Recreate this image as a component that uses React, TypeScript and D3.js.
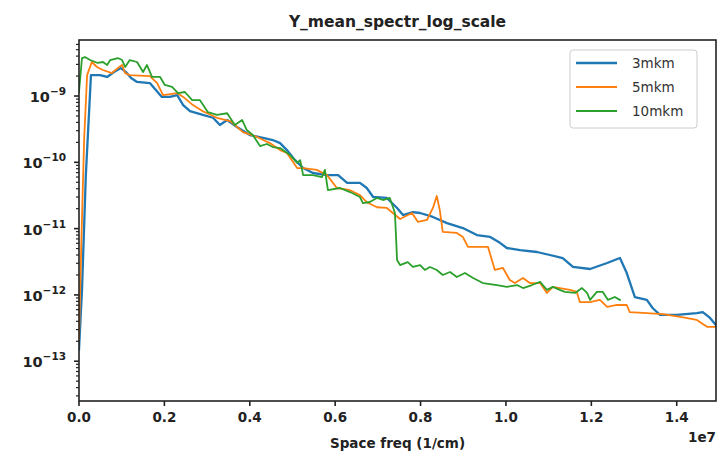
import * as d3 from 'd3';
import { useMemo } from 'react';

// frequency in units of 1e7 (1/cm)
const blueX = [0.0, 0.007, 0.016, 0.028, 0.049, 0.066, 0.082, 0.098, 0.11, 0.122, 0.136, 0.166, 0.18, 0.194, 0.213, 0.23, 0.244, 0.26, 0.29, 0.314, 0.33, 0.347, 0.37, 0.4, 0.431, 0.454, 0.471, 0.487, 0.506, 0.525, 0.548, 0.581, 0.607, 0.628, 0.658, 0.674, 0.689, 0.721, 0.745, 0.759, 0.782, 0.799, 0.829, 0.862, 0.899, 0.932, 0.963, 0.986, 1.002, 1.033, 1.073, 1.103, 1.133, 1.157, 1.197, 1.237, 1.267, 1.283, 1.302, 1.33, 1.344, 1.361, 1.4, 1.447, 1.461, 1.478, 1.492];
const blueY = [1.5e-13, 1.19e-12, 6.4e-11, 2.07e-9, 2.07e-9, 1.94e-9, 2.3e-9, 2.64e-9, 2.3e-9, 1.87e-9, 1.63e-9, 1.57e-9, 1.23e-9, 9.7e-10, 9.7e-10, 1.03e-9, 7.3e-10, 5.9e-10, 5.2e-10, 4.7e-10, 3.65e-10, 4.35e-10, 3.4e-10, 2.58e-10, 2.33e-10, 2.17e-10, 1.95e-10, 1.53e-10, 1.08e-10, 8.2e-11, 6.9e-11, 6.4e-11, 6.4e-11, 4.9e-11, 4.9e-11, 4.1e-11, 3.0e-11, 2.9e-11, 2.05e-11, 1.6e-11, 1.78e-11, 1.72e-11, 1.5e-11, 1.21e-11, 1.02e-11, 8.0e-12, 7.5e-12, 6.1e-12, 5.1e-12, 4.75e-12, 4.44e-12, 4.0e-12, 3.6e-12, 2.64e-12, 2.46e-12, 3.03e-12, 3.6e-12, 2.14e-12, 9.3e-13, 8.4e-13, 6.3e-13, 5.0e-13, 5.0e-13, 5.3e-13, 5.5e-13, 4.5e-13, 3.5e-13];

const orangeX = [0.0, 0.005, 0.012, 0.019, 0.03, 0.042, 0.056, 0.077, 0.091, 0.101, 0.108, 0.119, 0.166, 0.183, 0.197, 0.23, 0.244, 0.267, 0.29, 0.323, 0.354, 0.384, 0.417, 0.447, 0.471, 0.487, 0.511, 0.525, 0.557, 0.581, 0.604, 0.635, 0.658, 0.674, 0.698, 0.721, 0.752, 0.78, 0.794, 0.815, 0.829, 0.838, 0.845, 0.852, 0.885, 0.899, 0.911, 0.932, 0.958, 0.967, 0.974, 0.993, 1.009, 1.021, 1.04, 1.056, 1.08, 1.096, 1.11, 1.126, 1.15, 1.166, 1.173, 1.197, 1.22, 1.237, 1.26, 1.283, 1.29, 1.33, 1.368, 1.415, 1.447, 1.471, 1.492];
const orangeY = [2.1e-13, 4.75e-12, 2.17e-10, 2.07e-9, 3.26e-9, 2.74e-9, 2.47e-9, 2.22e-9, 2.64e-9, 2.94e-9, 2.22e-9, 2.07e-9, 2.0e-9, 1.57e-9, 1.03e-9, 1.11e-9, 9.7e-10, 7.3e-10, 5.9e-10, 4.7e-10, 4.2e-10, 2.86e-10, 2.41e-10, 1.95e-10, 1.53e-10, 1.38e-10, 8.2e-11, 8.2e-11, 7.7e-11, 6.4e-11, 4.1e-11, 3.8e-11, 3.2e-11, 2.5e-11, 2.1e-11, 2.05e-11, 1.4e-11, 1.72e-11, 1.26e-11, 1.35e-11, 2.05e-11, 3.1e-11, 1.91e-11, 8.9e-12, 8.6e-12, 7.5e-12, 5.3e-12, 5.3e-12, 5.3e-12, 3.36e-12, 2.38e-12, 2.55e-12, 1.68e-12, 1.51e-12, 1.8e-12, 1.51e-12, 1.51e-12, 1.07e-12, 1.32e-12, 1.27e-12, 1.19e-12, 1.11e-12, 7.8e-13, 7.8e-13, 8.4e-13, 6.6e-13, 7.05e-13, 7.05e-13, 5.5e-13, 5.3e-13, 5.15e-13, 4.6e-13, 4.2e-13, 3.3e-13, 3.3e-13];

const greenX = [0.0, 0.007, 0.014, 0.026, 0.044, 0.056, 0.066, 0.073, 0.091, 0.101, 0.108, 0.119, 0.136, 0.15, 0.159, 0.171, 0.19, 0.201, 0.218, 0.232, 0.248, 0.265, 0.283, 0.302, 0.323, 0.347, 0.365, 0.382, 0.393, 0.407, 0.424, 0.44, 0.454, 0.471, 0.494, 0.511, 0.518, 0.525, 0.548, 0.569, 0.576, 0.583, 0.611, 0.635, 0.658, 0.665, 0.681, 0.698, 0.712, 0.728, 0.74, 0.745, 0.752, 0.77, 0.782, 0.799, 0.81, 0.822, 0.838, 0.852, 0.869, 0.885, 0.904, 0.923, 0.946, 0.979, 1.002, 1.026, 1.04, 1.061, 1.08, 1.096, 1.11, 1.126, 1.138, 1.162, 1.178, 1.19, 1.197, 1.213, 1.227, 1.239, 1.255, 1.267];
const greenY = [1.15e-9, 3.74e-9, 3.87e-9, 3.49e-9, 3.15e-9, 3.26e-9, 2.94e-9, 3.49e-9, 3.74e-9, 3.49e-9, 2.74e-9, 3.49e-9, 3.26e-9, 2.3e-9, 2.94e-9, 1.94e-9, 1.94e-9, 1.47e-9, 1.37e-9, 1.11e-9, 1.15e-9, 8.7e-10, 8.7e-10, 5.7e-10, 5.2e-10, 5.5e-10, 3.65e-10, 4.35e-10, 3.07e-10, 2.58e-10, 1.76e-10, 1.89e-10, 1.7e-10, 1.64e-10, 1.29e-10, 9.8e-11, 1.08e-10, 6.4e-11, 6.4e-11, 6.0e-11, 7.7e-11, 3.8e-11, 4.1e-11, 3.56e-11, 3.0e-11, 2.43e-11, 2.52e-11, 2.9e-11, 2.7e-11, 2.9e-11, 1.72e-11, 3.36e-12, 2.82e-12, 3.13e-12, 2.64e-12, 2.82e-12, 2.38e-12, 2.64e-12, 2.38e-12, 2.0e-12, 2.22e-12, 1.86e-12, 2.14e-12, 1.8e-12, 1.51e-12, 1.41e-12, 1.32e-12, 1.41e-12, 1.27e-12, 1.41e-12, 1.57e-12, 1.19e-12, 1.32e-12, 1.19e-12, 1.11e-12, 1.07e-12, 1.27e-12, 1.07e-12, 8.4e-13, 1.11e-12, 1.11e-12, 8.4e-13, 9.3e-13, 8.4e-13];

const seriesNames = ['3mkm', '5mkm', '10mkm'];
const seriesColors = ['#1f77b4', '#ff7f0e', '#2ca02c'];
const seriesWidths = [2.3, 1.8, 1.8];

const xTicks = [0, 0.2, 0.4, 0.6, 0.8, 1.0, 1.2, 1.4];
const xTickLabels = ['0.0', '0.2', '0.4', '0.6', '0.8', '1.0', '1.2', '1.4'];
const yExponents = [-9, -10, -11, -12, -13];

const W = 718;
const H = 452;
const left = 79;
const right = 716;
const top = 40;
const bottom = 401;
const font = 'DejaVu Sans, sans-serif';

export default function App() {
  const x = useMemo(() => d3.scaleLinear().domain([0, 1.492]).range([left, right]), []);
  const y = useMemo(
    () => d3.scaleLog().domain([Math.pow(10, -13.6), Math.pow(10, -8.155)]).range([bottom, top]),
    []
  );

  const series = [
    blueX.map((v, i) => [v, blueY[i]] as [number, number]),
    orangeX.map((v, i) => [v, orangeY[i]] as [number, number]),
    greenX.map((v, i) => [v, greenY[i]] as [number, number]),
  ];

  const line = d3
    .line<[number, number]>()
    .x((d) => x(d[0]))
    .y((d) => y(d[1]));

  // minor log ticks
  const minor: number[] = [];
  for (let e = -14; e <= -9; e++) {
    for (let k = 2; k <= 9; k++) {
      const v = k * Math.pow(10, e);
      const [lo, hi] = y.domain();
      if (v >= lo && v <= hi) minor.push(v);
    }
  }

  return (
    <svg
      width={W}
      height={H}
      style={{ position: 'absolute', left: 0, top: 0, background: '#fff' }}
      fontFamily={font}
    >
      <rect x={0} y={0} width={W} height={H} fill='#fff' />
      <defs>
        <clipPath id='plot'>
          <rect x={left} y={top} width={right - left} height={bottom - top} />
        </clipPath>
      </defs>

      <g clipPath='url(#plot)'>
        {series.map((s, i) => (
          <path
            key={seriesNames[i]}
            d={line(s) ?? undefined}
            fill='none'
            stroke={seriesColors[i]}
            strokeWidth={seriesWidths[i]}
            strokeLinejoin='round'
            strokeLinecap='square'
          />
        ))}
      </g>

      {/* frame */}
      <rect x={left} y={top} width={right - left} height={bottom - top} fill='none' stroke='#222' strokeWidth={1.6} />

      {/* x ticks */}
      {xTicks.map((t, i) => (
        <g key={t}>
          <line x1={x(t)} x2={x(t)} y1={bottom} y2={bottom + 5} stroke='#222' strokeWidth={1.6} />
          <text x={x(t)} y={bottom + 21} textAnchor='middle' fontSize={13.5} fontWeight={600} fill='#222'>
            {xTickLabels[i]}
          </text>
        </g>
      ))}
      <text x={right} y={bottom + 41} textAnchor='end' fontSize={13.5} fontWeight={600} fill='#222'>
        1e7
      </text>
      <text x={(left + right) / 2} y={bottom + 47} textAnchor='middle' fontSize={13.5} fontWeight={600} fill='#222'>
        Space freq (1/cm)
      </text>

      {/* y ticks */}
      {minor.map((v) => (
        <line key={v} x1={left - 3} x2={left} y1={y(v)} y2={y(v)} stroke='#222' strokeWidth={1.2} />
      ))}
      {yExponents.map((e) => {
        const yy = y(Math.pow(10, e));
        return (
          <g key={e}>
            <line x1={left - 5} x2={left} y1={yy} y2={yy} stroke='#222' strokeWidth={1.6} />
            <text x={left - 13} y={yy + 6} textAnchor='end' fontSize={14.5} fontWeight={600} fill='#222'>
              10
              <tspan dy={-7} fontSize={10.5}>
                {'\u2212' + Math.abs(e)}
              </tspan>
            </text>
          </g>
        );
      })}

      {/* title */}
      <text x={(left + right) / 2} y={top - 13} textAnchor='middle' fontSize={15.5} fontWeight='bold' fill='#222'>
        Y_mean_spectr_log_scale
      </text>

      {/* legend */}
      <g>
        <rect x={570} y={50} width={127} height={78} rx={3} fill='#fff' fillOpacity={0.8} stroke='#ccc' />
        {seriesNames.map((n, i) => (
          <g key={n}>
            <line
              x1={576}
              x2={617}
              y1={63 + i * 24}
              y2={63 + i * 24}
              stroke={seriesColors[i]}
              strokeWidth={seriesWidths[i]}
            />
            <text x={632} y={68 + i * 24} fontSize={13.5} fill='#333'>
              {n}
            </text>
          </g>
        ))}
      </g>
    </svg>
  );
}
